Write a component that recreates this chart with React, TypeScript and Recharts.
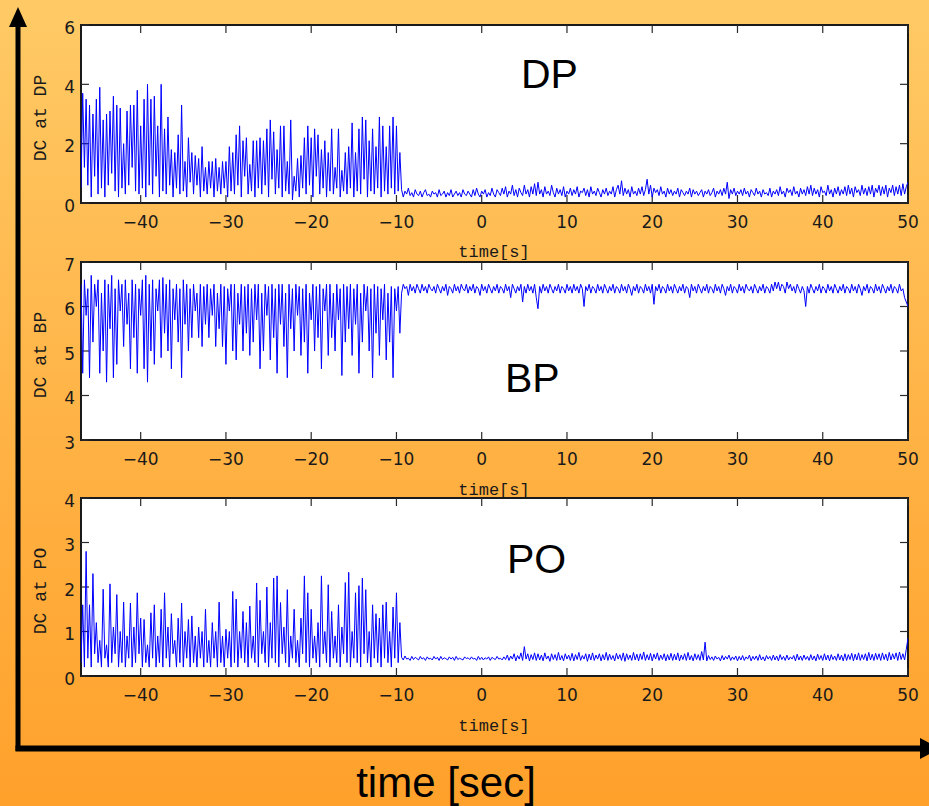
import React from 'react';
import { LineChart, Line, XAxis, YAxis, ReferenceLine } from 'recharts';

// ---- shared axis data ----
const X_DOMAIN: [number, number] = [-47, 50];
const X_TICKS = [-40, -30, -20, -10, 0, 10, 20, 30, 40, 50];
const NOISY_START = -47;
const NOISY_STEP = 0.2;
const QUIET_START = -9.4;
const QUIET_STEP = 0.2;

// ---- DP series ----
const dpNoisy = [
  0.5,3.7, 1.2,3.5, 0.6,3.3, 0.2,3.0, 0.9,3.5, 0.3,3.9, 0.5,2.8, 0.2,3.0, 0.6,3.1, 1.0,3.6,
  0.4,3.3, 0.2,3.2, 0.5,2.0, 0.3,3.1, 0.6,3.3, 1.2,3.3, 0.4,3.8, 0.3,2.6, 0.5,3.5, 0.2,4.0,
  0.6,3.5, 0.3,3.6, 0.9,2.6, 0.2,4.0, 0.4,2.5, 0.3,2.9, 0.6,1.8, 0.2,1.7, 0.5,2.3, 0.3,3.3,
  0.4,1.4, 0.2,2.2, 0.7,1.7, 0.3,1.6, 0.6,1.5, 0.2,1.9, 0.4,1.2, 0.3,1.4, 0.5,1.4, 0.2,1.5,
  0.4,1.2, 0.3,1.4, 0.5,1.4, 0.2,1.9, 0.4,1.7, 0.3,2.3, 0.6,2.6, 0.2,2.1, 0.9,2.2, 0.3,1.3,
  0.4,2.1, 0.2,2.1, 0.5,2.2, 0.3,2.1, 0.6,2.5, 0.2,2.8, 0.8,2.4, 0.3,1.8, 0.5,2.6, 0.2,2.6,
  0.4,1.4, 0.3,2.8, 0.1,0.9, 0.4,1.5, 0.2,1.6, 0.5,2.2, 0.3,2.6, 0.6,2.2, 0.2,2.5, 0.9,2.3,
  0.3,1.8, 0.5,2.1, 0.2,1.7, 0.4,2.5, 0.3,1.2, 0.5,2.5, 0.2,1.1, 0.4,1.7, 0.3,1.9, 0.5,2.7,
  0.2,1.7, 0.4,2.5, 0.3,2.9, 0.8,2.8, 0.2,2.1, 0.4,2.5, 0.3,1.9, 0.5,2.9, 0.2,2.6, 0.4,1.9,
  0.3,2.6, 0.5,2.9, 0.3,2.6, 0.4,1.7,
];
const dpQuiet = [
  0.45,0.2,0.4,0.3,0.5,0.25,0.35,0.2,0.45,0.3,0.25,0.4,0.2,0.35,0.45,0.25,0.3,0.2,0.4,0.3,
  0.35,0.2,0.45,0.25,0.3,0.4,0.2,0.35,0.25,0.45,0.2,0.3,0.4,0.25,0.35,0.2,0.45,0.3,0.25,0.4,
  0.3,0.2,0.45,0.25,0.5,0.3,0.2,0.4,0.3,0.45,0.2,0.35,0.25,0.5,0.3,0.2,0.45,0.35,0.25,0.5,
  0.3,0.55,0.2,0.4,0.3,0.6,0.25,0.45,0.2,0.5,0.35,0.25,0.6,0.3,0.45,0.2,0.55,0.3,0.65,0.25,
  0.7,0.3,0.45,0.2,0.55,0.3,0.4,0.25,0.6,0.35,0.2,0.5,0.3,0.45,0.25,0.55,0.2,0.4,0.3,0.5,
  0.25,0.45,0.3,0.55,0.2,0.4,0.35,0.5,0.25,0.45,0.2,0.55,0.3,0.4,0.25,0.5,0.35,0.2,0.45,0.3,
  0.5,0.25,0.4,0.3,0.55,0.2,0.45,0.6,0.3,0.75,0.25,0.5,0.3,0.45,0.2,0.55,0.3,0.4,0.25,0.5,
  0.3,0.55,0.25,0.45,0.8,0.3,0.6,0.2,0.5,0.35,0.45,0.25,0.55,0.3,0.4,0.2,0.5,0.3,0.45,0.25,
  0.4,0.3,0.5,0.2,0.45,0.35,0.25,0.4,0.3,0.5,0.2,0.45,0.3,0.4,0.25,0.35,0.45,0.2,0.4,0.3,
  0.45,0.25,0.35,0.5,0.2,0.4,0.3,0.45,0.25,0.5,0.3,0.7,0.15,0.45,0.3,0.5,0.25,0.4,0.3,0.45,
  0.25,0.5,0.3,0.4,0.2,0.45,0.35,0.25,0.5,0.3,0.4,0.2,0.45,0.3,0.35,0.25,0.5,0.2,0.4,0.3,
  0.45,0.25,0.55,0.3,0.4,0.2,0.5,0.35,0.45,0.25,0.55,0.3,0.4,0.2,0.5,0.3,0.45,0.25,0.55,0.3,
  0.6,0.25,0.5,0.3,0.45,0.2,0.55,0.35,0.4,0.25,0.6,0.3,0.45,0.2,0.5,0.3,0.55,0.25,0.45,0.3,
  0.55,0.25,0.6,0.3,0.5,0.2,0.55,0.35,0.45,0.25,0.6,0.3,0.5,0.25,0.55,0.3,0.6,0.2,0.5,0.35,
  0.6,0.25,0.55,0.3,0.6,0.2,0.5,0.35,0.6,0.25,0.55,0.3,0.6,0.25,0.65,0.3,0.55,0.7,
];

// ---- BP series ----
const bpNoisy = [
  6.5,4.5, 6.6,5.8, 6.4,4.4, 6.7,5.2, 6.5,6.0, 6.6,4.5, 6.3,5.0, 6.6,4.3, 6.5,5.5, 6.7,4.4,
  6.4,4.7, 6.6,5.9, 6.5,5.1, 6.6,5.6, 6.3,4.6, 6.6,5.3, 6.5,4.5, 6.4,5.8, 6.6,4.6, 6.7,4.3,
  6.5,5.0, 6.6,4.7, 6.4,5.9, 6.6,4.85, 6.65,5.4, 6.5,5.0, 6.6,4.6, 6.4,5.7, 6.5,5.2, 6.4,4.4,
  6.6,5.6, 6.5,5.0, 6.4,5.3, 6.5,5.9, 6.3,5.3, 6.5,5.1, 6.45,5.6, 6.5,5.3, 6.4,5.8, 6.5,5.1,
  6.3,5.5, 6.5,5.1, 6.45,4.7, 6.4,5.9, 6.5,5.0, 6.5,4.8, 6.3,5.6, 6.5,5.0, 6.45,5.4, 6.5,4.9,
  6.4,5.2, 6.5,5.7, 6.5,4.6, 6.3,5.0, 6.5,5.8, 6.45,4.8, 6.5,5.3, 6.4,4.5, 6.5,5.6, 6.5,5.1,
  6.3,4.4, 6.5,5.5, 6.4,5.0, 6.5,5.8, 6.45,4.9, 6.4,5.2, 6.5,4.5, 6.3,5.7, 6.5,5.0, 6.45,5.3,
  6.5,4.6, 6.4,5.9, 6.5,4.9, 6.5,5.3, 6.3,5.0, 6.5,5.7, 6.4,4.45, 6.5,5.2, 6.45,5.5, 6.5,4.9,
  6.4,5.6, 6.5,4.5, 6.3,5.2, 6.5,5.9, 6.45,5.0, 6.4,4.4, 6.5,5.4, 6.45,4.9, 6.4,5.7, 6.5,4.8,
  6.3,5.2, 6.45,4.4, 6.4,5.9, 6.45,5.4,
];
const bpQuiet = [
  6.3,6.5,6.4,6.45,6.25,6.5,6.35,6.45,6.3,6.5,6.4,6.3,6.5,6.35,6.45,6.3,6.5,6.4,6.35,6.45,
  6.3,6.5,6.4,6.3,6.45,6.35,6.5,6.25,6.45,6.4,6.3,6.5,6.35,6.45,6.3,6.5,6.4,6.35,6.5,6.3,
  6.45,6.35,6.5,6.3,6.45,6.4,6.25,6.5,6.35,6.45,6.3,6.5,6.4,6.3,6.45,6.35,6.5,6.3,6.45,6.4,
  6.3,6.5,6.35,6.45,6.2,6.5,6.4,6.3,6.45,6.35,6.5,6.1,6.45,6.3,6.5,6.35,6.45,6.3,6.5,6.2,
  5.95,6.45,6.3,6.5,6.35,6.45,6.3,6.5,6.4,6.3,6.45,6.35,6.5,6.3,6.45,6.4,6.3,6.5,6.35,6.45,
  6.3,6.5,6.35,6.45,6.3,6.5,6.4,6.0,6.45,6.35,6.5,6.3,6.45,6.4,6.3,6.5,6.35,6.45,6.3,6.5,
  6.4,6.3,6.45,6.35,6.5,6.3,6.45,6.4,6.3,6.5,6.35,6.45,6.3,6.5,6.4,6.25,6.45,6.35,6.5,6.3,
  6.45,6.4,6.3,6.5,6.35,6.45,6.3,6.5,6.05,6.45,6.35,6.5,6.3,6.45,6.4,6.3,6.5,6.35,6.45,6.3,
  6.5,6.4,6.3,6.45,6.35,6.5,6.3,6.45,6.4,6.2,6.5,6.35,6.45,6.3,6.5,6.4,6.3,6.45,6.35,6.5,
  6.3,6.45,6.4,6.3,6.5,6.35,6.45,6.3,6.5,6.4,6.25,6.45,6.35,6.5,6.3,6.45,6.4,6.3,6.5,6.35,
  6.45,6.3,6.5,6.4,6.35,6.45,6.3,6.5,6.4,6.3,6.45,6.35,6.5,6.3,6.45,6.4,6.3,6.5,6.35,6.55,
  6.4,6.55,6.35,6.5,6.45,6.3,6.55,6.4,6.5,6.35,6.45,6.3,6.5,6.4,6.3,6.45,6.35,6.0,6.45,6.3,
  6.5,6.4,6.3,6.45,6.35,6.5,6.3,6.45,6.4,6.3,6.5,6.35,6.45,6.3,6.5,6.4,6.3,6.45,6.35,6.5,
  6.3,6.45,6.4,6.3,6.5,6.35,6.45,6.3,6.5,6.4,6.25,6.45,6.35,6.5,6.3,6.45,6.4,6.3,6.5,6.35,
  6.45,6.3,6.5,6.4,6.3,6.45,6.35,6.5,6.3,6.45,6.4,6.3,6.5,6.35,6.4,6.2,6.1,6.0,
];

// ---- PO series ----
const poNoisy = [
  0.3,1.6, 0.2,2.8, 0.4,1.6, 0.2,2.3, 0.5,1.2, 0.3,0.8, 0.2,1.95, 0.4,0.7, 0.2,2.07, 0.3,1.1,
  0.5,1.83, 0.2,1.0, 0.3,1.66, 0.2,0.9, 0.4,1.64, 0.2,1.1, 0.3,1.87, 0.5,1.3, 0.2,1.27, 0.3,0.7,
  0.2,1.42, 0.4,1.6, 0.2,0.9, 0.3,1.5, 0.2,1.87, 0.4,1.1, 0.2,1.4, 0.5,0.8, 0.2,1.3, 0.3,1.64,
  0.2,1.0, 0.4,1.27, 0.2,1.35, 0.3,0.9, 0.2,1.1, 0.4,1.0, 0.2,1.5, 0.3,0.8, 0.2,1.2, 0.4,1.0,
  0.2,1.66, 0.3,0.9, 0.2,1.05, 0.4,1.0, 0.2,1.9, 0.3,1.73, 0.2,1.0, 0.4,1.45, 0.3,1.2, 0.2,1.57,
  0.4,0.9, 0.3,2.09, 0.2,1.7, 0.5,1.0, 0.3,2.0, 0.2,1.2, 0.4,2.2, 0.3,2.25, 0.2,1.65, 0.5,1.1,
  0.3,1.94, 0.2,0.9, 0.4,1.5, 0.3,0.8, 0.2,1.3, 0.5,2.25, 0.3,1.87, 0.2,1.5, 0.4,0.9, 0.3,1.2,
  0.2,2.25, 0.5,1.0, 0.3,2.05, 0.2,1.45, 0.4,0.9, 0.3,1.6, 0.2,1.1, 0.5,2.1, 0.3,2.33, 0.2,1.0,
  0.4,1.87, 0.3,2.03, 0.2,2.2, 0.5,1.94, 0.3,1.0, 0.2,1.6, 0.4,1.4, 0.3,1.3, 0.2,1.6, 0.4,1.66,
  0.3,1.0, 0.2,1.55, 0.4,1.87, 0.3,1.2,
];
const poQuiet = [
  0.42,0.36,0.45,0.38,0.4,0.35,0.44,0.37,0.42,0.39,0.36,0.44,0.38,0.41,0.35,0.43,0.38,0.4,0.36,0.44,
  0.38,0.42,0.35,0.44,0.37,0.41,0.39,0.36,0.43,0.38,0.42,0.35,0.44,0.37,0.4,0.38,0.36,0.43,0.39,0.41,
  0.37,0.43,0.38,0.4,0.35,0.44,0.37,0.42,0.36,0.41,0.38,0.43,0.35,0.42,0.39,0.37,0.44,0.38,0.4,0.36,
  0.43,0.37,0.47,0.35,0.45,0.38,0.5,0.34,0.46,0.38,0.52,0.35,0.66,0.38,0.5,0.34,0.48,0.37,0.52,0.35,
  0.5,0.36,0.47,0.34,0.52,0.38,0.45,0.33,0.5,0.37,0.48,0.35,0.53,0.36,0.46,0.34,0.5,0.38,0.47,0.35,
  0.51,0.34,0.48,0.37,0.53,0.35,0.46,0.38,0.5,0.33,0.49,0.36,0.52,0.35,0.47,0.38,0.5,0.34,0.48,0.36,
  0.53,0.35,0.49,0.37,0.46,0.34,0.51,0.38,0.48,0.35,0.52,0.33,0.5,0.37,0.47,0.35,0.53,0.36,0.49,0.34,
  0.5,0.37,0.54,0.35,0.48,0.36,0.51,0.34,0.49,0.38,0.52,0.35,0.47,0.37,0.5,0.34,0.48,0.36,0.51,0.35,
  0.49,0.36,0.52,0.34,0.47,0.37,0.5,0.35,0.53,0.36,0.46,0.34,0.5,0.37,0.48,0.35,0.55,0.36,0.76,0.34,
  0.46,0.37,0.43,0.35,0.45,0.38,0.42,0.34,0.46,0.36,0.44,0.38,0.47,0.35,0.43,0.37,0.45,0.34,0.44,0.36,
  0.46,0.35,0.43,0.38,0.47,0.34,0.44,0.37,0.45,0.35,0.48,0.36,0.43,0.34,0.46,0.38,0.44,0.35,0.47,0.36,
  0.45,0.34,0.48,0.37,0.44,0.35,0.47,0.36,0.43,0.38,0.46,0.34,0.49,0.36,0.45,0.35,0.47,0.37,0.44,0.35,
  0.48,0.36,0.45,0.34,0.49,0.37,0.46,0.35,0.5,0.36,0.47,0.34,0.48,0.37,0.45,0.35,0.5,0.36,0.47,0.34,
  0.5,0.35,0.48,0.37,0.51,0.34,0.49,0.36,0.52,0.35,0.48,0.37,0.5,0.34,0.53,0.36,0.49,0.35,0.51,0.37,
  0.5,0.35,0.52,0.37,0.49,0.34,0.53,0.36,0.5,0.38,0.52,0.35,0.54,0.37,0.5,0.36,0.6,0.85,
];

const DP_TICKS = [0, 2, 4, 6];
const BP_TICKS = [3, 4, 5, 6, 7];
const PO_TICKS = [0, 1, 2, 3, 4];

function buildSeries(noisy: number[], quiet: number[]) {
  const a = noisy.map((v, i) => ({ t: +(NOISY_START + i * NOISY_STEP).toFixed(2), v }));
  const b = quiet.map((v, i) => ({ t: +(QUIET_START + i * QUIET_STEP).toFixed(2), v }));
  return a.concat(b);
}

const fmt = (v: number) => (v < 0 ? '\u2212' + Math.abs(v) : String(v));

const W = 929;
const PLOT_LEFT = 81;
const PLOT_RIGHT_MARGIN = 21;
const PLOT_W = W - PLOT_LEFT - PLOT_RIGHT_MARGIN;
const PLOT_H = 178;
const MT = 15;
const TICK_LEN = 8;
const AXIS_COLOR = '#1a1a1a';
const TICK_COLOR = '#2a2a2a';
const FONT_FAMILY = 'DejaVu Sans';
const FONT_SIZE = 17;

// tick label renderers (tickSize/tickMargin = 0 so x/y sit on the axis line)
const BottomTick = (props: any) => {
  const { x, y, payload } = props;
  return (
    <text x={x} y={y + 24.5} textAnchor="middle" fontFamily={FONT_FAMILY} fontSize={FONT_SIZE} fill={AXIS_COLOR}>
      {fmt(payload.value)}
    </text>
  );
};
const LeftTick = (props: any) => {
  const { x, y, payload } = props;
  return (
    <text x={x - 6} y={y + 8.5} textAnchor="end" fontFamily={FONT_FAMILY} fontSize={FONT_SIZE} fill={AXIS_COLOR}>
      {fmt(payload.value)}
    </text>
  );
};

type PanelProps = {
  data: { t: number; v: number }[];
  yDomain: [number, number];
  yTicks: number[];
  top: number;
};

function Panel({ data, yDomain, yTicks, top }: PanelProps) {
  // inward tick length expressed in data units of each axis
  const dy = (TICK_LEN * (yDomain[1] - yDomain[0])) / PLOT_H;
  const dx = (TICK_LEN * (X_DOMAIN[1] - X_DOMAIN[0])) / PLOT_W;
  return (
    <>
      {/* white plotting box with dark frame, behind the transparent chart svg */}
      <div
        style={{
          position: 'absolute',
          left: PLOT_LEFT - 1,
          top: top - 1,
          width: PLOT_W + 2,
          height: PLOT_H + 2,
          boxSizing: 'border-box',
          border: `2px solid ${AXIS_COLOR}`,
          background: '#ffffff',
        }}
      />
      <div style={{ position: 'absolute', left: 0, top: top - MT }}>
        <LineChart
          width={W}
          height={MT + PLOT_H + 40}
          data={data}
          margin={{ top: MT, right: PLOT_RIGHT_MARGIN, bottom: 0, left: 21 }}
        >
          <XAxis
            dataKey="t"
            type="number"
            domain={X_DOMAIN}
            ticks={X_TICKS}
            allowDataOverflow
            interval={0}
            height={40}
            tickSize={0}
            tickMargin={0}
            tickLine={false}
            axisLine={false}
            tick={BottomTick}
          />
          <YAxis
            type="number"
            domain={yDomain}
            ticks={yTicks}
            allowDataOverflow
            interval={0}
            width={PLOT_LEFT - 21}
            tickSize={0}
            tickMargin={0}
            tickLine={false}
            axisLine={false}
            tick={LeftTick}
          />
          {X_TICKS.map((t) => (
            <ReferenceLine
              key={`xb${t}`}
              segment={[{ x: t, y: yDomain[0] }, { x: t, y: yDomain[0] + dy }]}
              stroke={TICK_COLOR}
              strokeWidth={1.2}
              ifOverflow="visible"
            />
          ))}
          {X_TICKS.map((t) => (
            <ReferenceLine
              key={`xt${t}`}
              segment={[{ x: t, y: yDomain[1] }, { x: t, y: yDomain[1] - dy }]}
              stroke={TICK_COLOR}
              strokeWidth={1.2}
              ifOverflow="visible"
            />
          ))}
          {yTicks.map((v) => (
            <ReferenceLine
              key={`yl${v}`}
              segment={[{ x: X_DOMAIN[0], y: v }, { x: X_DOMAIN[0] + dx, y: v }]}
              stroke={TICK_COLOR}
              strokeWidth={1.2}
              ifOverflow="visible"
            />
          ))}
          {yTicks.map((v) => (
            <ReferenceLine
              key={`yr${v}`}
              segment={[{ x: X_DOMAIN[1], y: v }, { x: X_DOMAIN[1] - dx, y: v }]}
              stroke={TICK_COLOR}
              strokeWidth={1.2}
              ifOverflow="visible"
            />
          ))}
          <Line
            dataKey="v"
            type="linear"
            stroke="#0000ff"
            strokeWidth={1}
            dot={false}
            activeDot={false}
            isAnimationActive={false}
          />
        </LineChart>
      </div>
    </>
  );
}

const PANELS = [
  { title: 'DP', yLabel: 'DC at DP', data: buildSeries(dpNoisy, dpQuiet), yDomain: [0, 6] as [number, number], yTicks: DP_TICKS, top: 25, titleX: 521, titleY: 88, xLabelY: 257 },
  { title: 'BP', yLabel: 'DC at BP', data: buildSeries(bpNoisy, bpQuiet), yDomain: [3, 7] as [number, number], yTicks: BP_TICKS, top: 262, titleX: 505, titleY: 392, xLabelY: 495 },
  { title: 'PO', yLabel: 'DC at PO', data: buildSeries(poNoisy, poQuiet), yDomain: [0, 4] as [number, number], yTicks: PO_TICKS, top: 498, titleX: 507, titleY: 573, xLabelY: 731 },
];

export default function App() {
  return (
    <div
      style={{
        position: 'absolute',
        left: 0,
        top: 0,
        width: W,
        height: 806,
        overflow: 'hidden',
        background: 'linear-gradient(180deg, #FFCA66 0%, #FFB447 50%, #FFA12B 100%)',
      }}
    >
      {PANELS.map((p) => (
        <Panel key={p.title} data={p.data} yDomain={p.yDomain} yTicks={p.yTicks} top={p.top} />
      ))}
      <svg
        width={W}
        height={806}
        style={{ position: 'absolute', left: 0, top: 0, pointerEvents: 'none' }}
      >
        {PANELS.map((p) => {
          const mid = p.top + PLOT_H / 2 + 4;
          return (
            <g key={p.title}>
              <text x={p.titleX} y={p.titleY} fontFamily="Liberation Sans, Arial, sans-serif" fontSize={41} fill="#000">
                {p.title}
              </text>
              <text
                x={494}
                y={p.xLabelY}
                textAnchor="middle"
                fontFamily="Liberation Mono, monospace"
                fontSize={17}
                fill="#1a1a1a"
              >
                time[s]
              </text>
              <text
                transform={`translate(46,${mid}) rotate(-90)`}
                textAnchor="middle"
                fontFamily="Liberation Mono, monospace"
                fontSize={18}
                fill="#1a1a1a"
              >
                {p.yLabel}
              </text>
            </g>
          );
        })}
        {/* big axis arrows */}
        <line x1={18} y1={24} x2={18} y2={751} stroke="#000" strokeWidth={5} />
        <polygon points="18,7 9,27 27,27" fill="#000" />
        <line x1={15.5} y1={748.5} x2={924} y2={748.5} stroke="#000" strokeWidth={6} />
        <polygon points="920,738 920,759 940,748.5" fill="#000" />
        <text
          x={446}
          y={797}
          textAnchor="middle"
          fontFamily="Liberation Sans, Arial, sans-serif"
          fontSize={42}
          fill="#000"
        >
          time [sec]
        </text>
      </svg>
    </div>
  );
}
